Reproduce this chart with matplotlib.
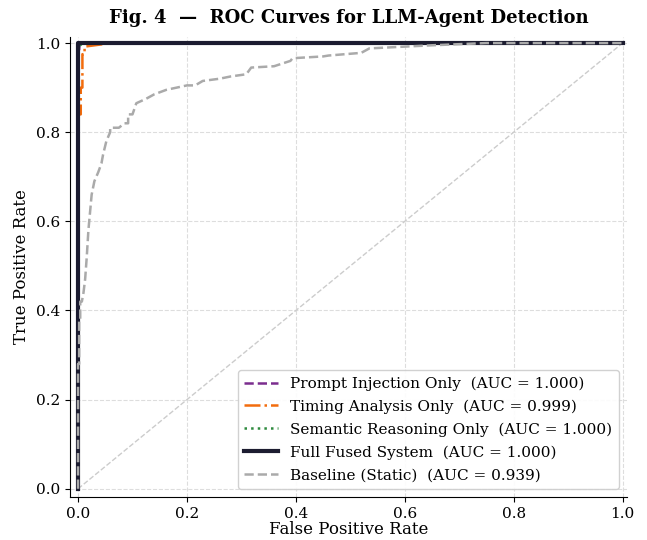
import numpy as np
import matplotlib
matplotlib.use("Agg")
import matplotlib.pyplot as plt

plt.rcParams["font.family"] = "DejaVu Serif"

# ROC points (staircase order)
prompt_fpr = [0.0, 0.0, 0.002, 0.003, 1.0]
prompt_tpr = [0.0, 0.985, 0.985, 1.0, 1.0]

timing_fpr = [0.0, 0.0, 0.005, 0.005, 0.008, 0.008, 0.012, 0.012, 0.062, 1.0]
timing_tpr = [0.0, 0.84, 0.84, 0.90, 0.90, 0.975, 0.975, 0.992, 1.0, 1.0]

semantic_fpr = [0.0, 0.0, 0.004, 0.008, 1.0]
semantic_tpr = [0.0, 0.99, 0.995, 1.0, 1.0]

fused_fpr = [0.0, 0.0, 1.0]
fused_tpr = [0.0, 1.0, 1.0]

base_fpr = [0.0, 0.0, 0.002, 0.002, 0.004, 0.004, 0.007, 0.010, 0.013, 0.016, 0.019,
            0.022, 0.025, 0.030, 0.037, 0.043, 0.046, 0.052, 0.059, 0.059, 0.075,
            0.085, 0.092, 0.092, 0.100, 0.107, 0.125, 0.140, 0.162, 0.200, 0.215,
            0.229, 0.260, 0.280, 0.309, 0.318, 0.360, 0.390, 0.394, 0.450, 0.460,
            0.520, 0.535, 0.600, 0.650, 0.690, 0.750, 1.0]
base_tpr = [0.0, 0.28, 0.28, 0.38, 0.38, 0.42, 0.42, 0.44, 0.47, 0.52, 0.58,
            0.62, 0.66, 0.69, 0.71, 0.73, 0.75, 0.78, 0.80, 0.81, 0.81,
            0.82, 0.82, 0.84, 0.84, 0.865, 0.875, 0.885, 0.895, 0.905, 0.905,
            0.915, 0.92, 0.925, 0.93, 0.945, 0.948, 0.96, 0.966, 0.97, 0.972,
            0.978, 0.988, 0.992, 0.995, 0.997, 1.0, 1.0]

labels = ["Prompt Injection Only", "Timing Analysis Only", "Semantic Reasoning Only",
          "Full Fused System", "Baseline (Static)"]
aucs = [1.000, 0.999, 1.000, 1.000, 0.939]

fig = plt.figure(figsize=(6.47, 5.40), dpi=100)
ax = fig.add_axes([0.108, 0.080, 0.861, 0.851])

ax.plot([0, 1], [0, 1], color="#cccccc", linestyle="--", linewidth=1.0)

ax.plot(prompt_fpr, prompt_tpr, color="#7b2d8e", linestyle="--", linewidth=1.8,
        label=f"{labels[0]}  (AUC = {aucs[0]:.3f})")
ax.plot(timing_fpr, timing_tpr, color="#f26c0d", linestyle="-.", linewidth=1.8,
        label=f"{labels[1]}  (AUC = {aucs[1]:.3f})")
ax.plot(semantic_fpr, semantic_tpr, color="#2e8b3e", linestyle=":", linewidth=1.8,
        label=f"{labels[2]}  (AUC = {aucs[2]:.3f})")
ax.plot(fused_fpr, fused_tpr, color="#1c1c30", linestyle="-", linewidth=3.0,
        label=f"{labels[3]}  (AUC = {aucs[3]:.3f})")
ax.plot(base_fpr, base_tpr, color="#aaaaaa", linestyle="--", linewidth=1.8,
        label=f"{labels[4]}  (AUC = {aucs[4]:.3f})")

ax.set_xlim(-0.015, 1.008)
ax.set_ylim(-0.018, 1.013)
ax.set_xticks(np.arange(0, 1.01, 0.2))
ax.set_yticks(np.arange(0, 1.01, 0.2))
ax.tick_params(labelsize=11)
ax.set_xlabel("False Positive Rate", fontsize=12, labelpad=0)
ax.set_ylabel("True Positive Rate", fontsize=12)
ax.set_title("Fig. 4  —  ROC Curves for LLM-Agent Detection", fontsize=13,
             fontweight="bold", pad=10)
ax.grid(True, linestyle="--", color="#dddddd", linewidth=0.8)
ax.spines["top"].set_visible(False)
ax.spines["right"].set_visible(False)
ax.legend(loc="lower right", fontsize=11, handlelength=2.2, labelspacing=0.56,
          borderpad=0.45, framealpha=0.9)

plt.savefig("out.png", dpi=100)
